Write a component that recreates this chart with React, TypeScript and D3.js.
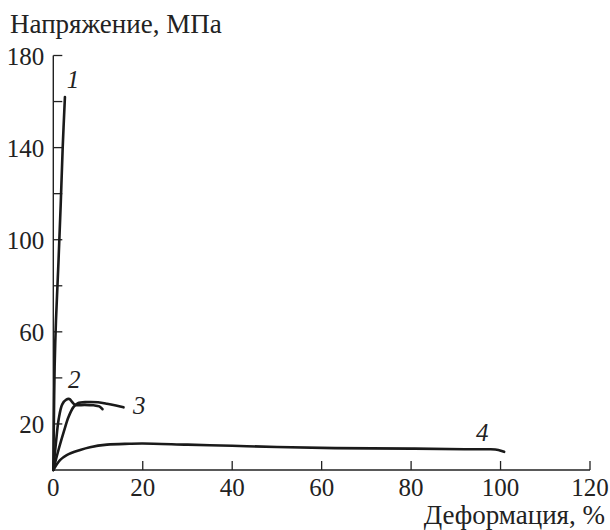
import React from "react";
import * as d3 from "d3";

const xTicks = [0, 20, 40, 60, 80, 100, 120];
const yTicks = [20, 40, 60, 80, 100, 120, 140, 160, 180];
const yLabels = [20, 60, 100, 140, 180];

const curve1: [number, number][] = [
  [0, 0], [0.12, 20], [0.3, 45], [0.6, 65], [1.15, 90], [1.65, 115], [2.1, 140], [2.6, 162],
];
const curve2: [number, number][] = [
  [0, 0], [0.6, 12], [1.2, 22], [2.0, 28.5], [2.9, 30.6], [3.6, 30.8], [4.3, 29.3],
  [5.0, 28.2], [7.0, 28.3], [9.0, 28.1], [10.3, 27.6], [11.0, 26.4],
];
const curve3: [number, number][] = [
  [0, 0], [1.2, 9], [2.4, 17], [3.4, 23], [4.5, 27.3], [5.5, 29.0], [7.5, 29.5],
  [10, 29.4], [12, 28.8], [14, 28.0], [15.7, 27.2],
];
const curve4: [number, number][] = [
  [0, 0], [1.5, 4.3], [3, 6.5], [6, 8.7], [8.2, 9.9], [12, 11.0], [17, 11.4], [20, 11.5],
  [30, 11.0], [40, 10.5], [50, 10.0], [63, 9.5], [80, 9.3], [92, 9.0], [97.5, 9.0],
  [99.5, 8.7], [100.8, 7.9],
];

const curveLabels = [
  { text: "1", x: 3.0, y: 166 },
  { text: "2", x: 3.3, y: 35.5 },
  { text: "3", x: 17.8, y: 24.5 },
  { text: "4", x: 94.5, y: 12.5 },
];

export default function App() {
  const W = 610, H = 530;
  const x = d3.scaleLinear().domain([0, 120]).range([53.3, 590]);
  const y = d3.scaleLinear().domain([0, 180]).range([470, 55.5]);
  const line = d3
    .line<[number, number]>()
    .x((d) => x(d[0]))
    .y((d) => y(d[1]))
    .curve(d3.curveCatmullRom.alpha(0.5));
  const fam = '"Liberation Serif", "Times New Roman", serif';
  const tick: React.CSSProperties = { fontFamily: fam, fontSize: 25 };
  const title: React.CSSProperties = { fontFamily: fam, fontSize: 27 };
  const curves = [curve1, curve2, curve3, curve4];
  return (
    <svg
      width={W}
      height={H}
      style={{ position: "absolute", left: 0, top: 0, background: "#fff" }}
    >
      <rect width={W} height={H} fill="#fff" />
      <line x1={x(0)} x2={x(0)} y1={y(0)} y2={y(180)} stroke="#222" strokeWidth={1.4} />
      <line x1={x(0)} x2={x(120)} y1={y(0)} y2={y(0)} stroke="#222" strokeWidth={1.4} />
      {yTicks.map((t) => (
        <line key={"yt" + t} x1={x(0)} x2={x(0) + 9} y1={y(t)} y2={y(t)} stroke="#222" strokeWidth={1.3} />
      ))}
      {xTicks.filter((t) => t > 0).map((t) => (
        <line key={"xt" + t} x1={x(t)} x2={x(t)} y1={y(0)} y2={y(0) - 9} stroke="#222" strokeWidth={1.3} />
      ))}
      {yLabels.map((t) => (
        <text key={"yl" + t} x={x(0) - 9} y={y(t) + 9} textAnchor="end" style={tick} fill="#222">
          {t}
        </text>
      ))}
      {xTicks.map((t) => (
        <text key={"xl" + t} x={x(t)} y={496} textAnchor="middle" style={tick} fill="#222">
          {t}
        </text>
      ))}
      <text x={10} y={33} style={title} fill="#222">
        Напряжение, МПа
      </text>
      <text x={605} y={524} textAnchor="end" style={title} fill="#222">
        Деформация, %
      </text>
      {curves.map((c, i) => (
        <path key={"c" + i} d={line(c) || ""} fill="none" stroke="#1a1a1a" strokeWidth={2.6} strokeLinejoin="round" strokeLinecap="round" />
      ))}
      {curveLabels.map((l) => (
        <text key={"cl" + l.text} x={x(l.x)} y={y(l.y)} style={{ ...tick, fontStyle: "italic" }} fill="#222">
          {l.text}
        </text>
      ))}
    </svg>
  );
}
